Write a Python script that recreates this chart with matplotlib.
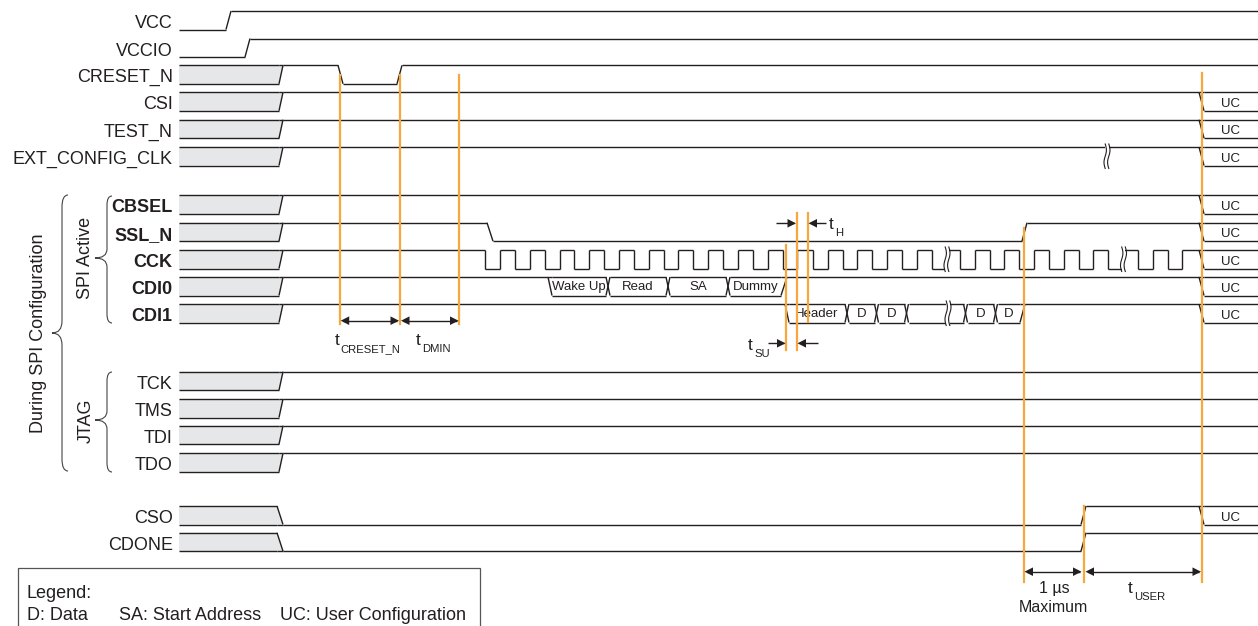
import numpy as np
import matplotlib.pyplot as plt
from matplotlib.patches import Polygon, Rectangle, PathPatch
from matplotlib.path import Path

plt.rcParams['font.family'] = ['Liberation Sans', 'DejaVu Sans']

INK = '#231f20'
GRAY = '#e6e7e8'
ORANGE = '#f8a73c'
LW = 1.0

# ---------------- data (time axis in drawing units) ----------------
signals = ["VCC", "VCCIO", "CRESET_N", "CSI", "TEST_N", "EXT_CONFIG_CLK",
           "CBSEL", "SSL_N", "CCK", "CDI0", "CDI1",
           "TCK", "TMS", "TDI", "TDO",
           "CSO", "CDONE"]
spi_active = ["CBSEL", "SSL_N", "CCK", "CDI0", "CDI1"]

T_START, T_END = 179, 1258

# (time, state, transition width); H high, L low, G undefined, other = bus cell
gray_to_high = [(T_START, "G", 0), (279, "H", 4)]
gray_to_low = [(T_START, "G", 0), (277, "L", 6)]
to_uc = [(1199, "UC", 5)]

cck_falls = [485, 515, 545, 574, 604, 634, 664, 693, 723, 753, 783, 813, 843,
             872, 902, 932, 960, 990, 1019, 1049, 1079, 1108, 1138, 1168]
cck_rises = [500, 530, 560, 589, 619, 649, 678, 708, 738, 768, 797, 828, 857,
             887, 917, 947, 975, 1004, 1034, 1064, 1093, 1123, 1153, 1182]

cdi0_cells = ["Wake Up", "Read", "SA", "Dummy"]
cdi0_times = [548, 606, 666, 726]
cdi0_end = 781

cdi1_cells = ["Header", "D", "D", "", "D", "D"]
cdi1_times = [785, 845, 874.5, 904.5, 963.5, 993.5]
cdi1_end = 1020

clock_edges = sorted([(t, "L", 0) for t in cck_falls] + [(t, "H", 0) for t in cck_rises])

waves = {
    "VCC": [(T_START, "L", 0), (226, "H", 5)],
    "VCCIO": [(T_START, "L", 0), (245, "H", 5)],
    "CRESET_N": gray_to_high + [(338, "L", 5), (397, "H", 5)],
    "CSI": gray_to_high + to_uc,
    "TEST_N": gray_to_high + to_uc,
    "EXT_CONFIG_CLK": gray_to_high + to_uc,
    "CBSEL": gray_to_high + to_uc,
    "SSL_N": gray_to_high + [(487, "L", 6), (1022, "H", 5)] + to_uc,
    "CCK": gray_to_high + clock_edges + to_uc,
    "CDI0": gray_to_high + [(t, c, 4) for t, c in zip(cdi0_times, cdi0_cells)]
            + [(cdi0_end, "H", 6)] + to_uc,
    "CDI1": gray_to_high + [(t, c, 4) for t, c in zip(cdi1_times, cdi1_cells)]
            + [(cdi1_end, "H", 5)] + to_uc,
    "TCK": gray_to_high,
    "TMS": gray_to_high,
    "TDI": gray_to_high,
    "TDO": gray_to_high,
    "CSO": gray_to_low + [(1081, "H", 5)] + to_uc,
    "CDONE": gray_to_low + [(1081, "H", 5)],
}

breaks = [("EXT_CONFIG_CLK", 1107), ("CCK", 947), ("CCK", 1123.5), ("CDI1", 948)]

# orange reference lines: time, and the vertical span they cover
marker_times = [340, 400, 459, 785.7, 796.7, 808.3, 1024, 1083.5, 1201.5]
marker_spans = [(75, 324), (75, 324), (75, 324), (245, 350), (213, 350),
                (213, 322), (228, 582), (506, 582), (73, 582)]

# ---------------- layout ----------------
row_top = [11, 38.5, 65.3, 92.3, 119.7, 147, 195.3, 222.7, 250, 277, 304,
           371.7, 399, 425.7, 453.3, 506, 532.7]
ROW_H = 18.5
LABEL_X = 172.7

fig = plt.figure(figsize=(12.58, 6.26), dpi=100)
ax = fig.add_axes([0, 0, 1, 1])
ax.set_xlim(0, 1258)
ax.set_ylim(626, 0)
ax.axis('off')


def line(xs, ys, **kw):
    ax.plot(xs, ys, color=kw.pop('color', INK), lw=kw.pop('lw', LW),
            solid_capstyle='butt', zorder=kw.pop('zorder', 2), **kw)


def levels(state):
    if state == "H":
        return [0]
    if state == "L":
        return [1]
    return [0, 1]


def draw_wave(events, top, bot):
    y = (top, bot)
    for i, (t, s, w) in enumerate(events):
        a = t + w
        if i + 1 < len(events):
            t2, s2, w2 = events[i + 1]
        else:
            t2, s2, w2 = T_END, None, 0
        for l in levels(s):
            line([a, t2], [y[l], y[l]])
        if s not in ("H", "L", "G") and s:
            dy = 2.5 if s == "UC" else 1.0
            ax.text((a + t2) / 2, (top + bot) / 2 + dy, s, ha='center',
                    va='center', size=9.5, color=INK)
        if s == "G":
            nxt = levels(s2) if s2 else [0, 1]
            ax.add_patch(Polygon([(a, top), (t2 + (w2 if 0 in nxt else 0), top),
                                  (t2 + (w2 if 1 in nxt else 0), bot), (a, bot)],
                                 closed=True, fc=GRAY, ec='none', zorder=1))
        if s2 is None:
            continue
        F, T = levels(s), levels(s2)
        if len(F) == 2 and len(T) == 2:
            line([t2, t2 + w2], [top, bot])
            line([t2, t2 + w2], [bot, top])
        elif len(F) == 2:
            keep = T[0]
            line([t2, t2 + w2], [y[keep], y[keep]])
            line([t2, t2 + w2], [y[1 - keep], y[keep]])
        elif len(T) == 2:
            keep = F[0]
            line([t2, t2 + w2], [y[keep], y[keep]])
            line([t2, t2 + w2], [y[keep], y[1 - keep]])
        else:
            line([t2, t2 + w2], [y[F[0]], y[T[0]]])


def draw_break(t, top, bot):
    ax.add_patch(Rectangle((t - 1.8, top - 2), 3.6, bot - top + 4, fc='white',
                           ec='none', zorder=3))
    yy = np.linspace(top - 3, bot + 3, 40)
    wig = 1.2 * np.sin((yy - yy[0]) / (yy[-1] - yy[0]) * 2 * np.pi)
    for dx in (-1.8, 1.8):
        ax.plot(t + dx + wig, yy, color=INK, lw=0.8, zorder=4)


for name, top in zip(signals, row_top):
    bot = top + ROW_H
    ax.text(LABEL_X, bot - 1.5, name, ha='right', va='baseline', size=13,
            color=INK, weight='bold' if name in spi_active else 'normal')
    draw_wave(waves[name], top, bot)

for name, t in breaks:
    top = row_top[signals.index(name)]
    draw_break(t, top, top + ROW_H)

for t, (y0, y1) in zip(marker_times, marker_spans):
    ax.plot([t, t], [y0, y1], color=ORANGE, lw=1.6, zorder=5)


# ---------------- dimension arrows ----------------
def head(x_tip, y, d):
    L, H = 8.5, 4.3
    ax.add_patch(Polygon([(x_tip, y), (x_tip - d * L, y - H), (x_tip - d * L, y + H)],
                         closed=True, fc=INK, ec='none', zorder=6))


def dim(x0, x1, y):
    line([x0 + 2, x1 - 2], [y, y], zorder=6)
    head(x0, y, -1)
    head(x1, y, 1)


def pointer(x_from, x_to, y):
    d = 1 if x_to > x_from else -1
    line([x_from, x_to - d * 2], [y, y], zorder=6)
    head(x_to, y, d)


def tlabel(x, y, sub):
    ax.text(x, y, 't', size=12.5, va='baseline', ha='left', color=INK)
    ax.text(x + 6.3, y + 7, sub, size=8.1, va='baseline', ha='left', color=INK)


dim(340.7, 399, 320.7)
dim(401, 458.5, 320.7)
tlabel(334.5, 345, "CRESET_N")
tlabel(416, 345, "DMIN")

pointer(776, 796, 223.3)
pointer(826, 808.5, 223.3)
tlabel(829, 229, "H")

pointer(768, 785.5, 343.3)
pointer(818, 797.5, 343.3)
tlabel(748, 350, "SU")

dim(1024.5, 1081.5, 571.7)
dim(1085.5, 1201, 571.7)
ax.text(1054, 589, "1 µs", ha='center', va='center', size=11.5, color=INK)
ax.text(1053.5, 607.5, "Maximum", ha='center', va='center', size=11.5, color=INK)
tlabel(1128, 593, "USER")


# ---------------- braces and group labels ----------------
def brace(x_end, x_stem, x_tip, y0, y1, ytip, r):
    verts = [(x_end, y0), (x_stem, y0), (x_stem, y0 + r),
             (x_stem, ytip - r), (x_stem, ytip), (x_tip, ytip),
             (x_stem, ytip), (x_stem, ytip + r),
             (x_stem, y1 - r), (x_stem, y1), (x_end, y1)]
    codes = [Path.MOVETO, Path.CURVE3, Path.CURVE3,
             Path.LINETO, Path.CURVE3, Path.CURVE3,
             Path.CURVE3, Path.CURVE3,
             Path.LINETO, Path.CURVE3, Path.CURVE3]
    ax.add_patch(PathPatch(Path(verts, codes), fc='none', ec='#444444', lw=0.8))


brace(68, 62, 52, 195, 471, 333, 12)
brace(112, 107, 95, 196, 323, 258, 9)
brace(112, 107, 95, 372, 472, 420, 9)
ax.text(39, 333, "During SPI Configuration", rotation=90, ha='center', va='center',
        size=13, color=INK)
ax.text(86, 258, "SPI Active", rotation=90, ha='center', va='center', size=13, color=INK)
ax.text(86.5, 421, "JTAG", rotation=90, ha='center', va='center', size=13, color=INK)

# ---------------- legend box ----------------
ax.add_patch(Rectangle((18, 568.3), 461.5, 80, fc='none', ec='#555555', lw=0.9,
                       clip_on=True))
ax.text(27, 598.5, "Legend:", size=13, va='baseline', color=INK)
ax.text(27, 620, "D: Data", size=13, va='baseline', color=INK)
ax.text(119.3, 620, "SA: Start Address", size=13, va='baseline', color=INK)
ax.text(280, 620, "UC: User Configuration", size=13, va='baseline', color=INK)

fig.savefig('out.png', dpi=100)
